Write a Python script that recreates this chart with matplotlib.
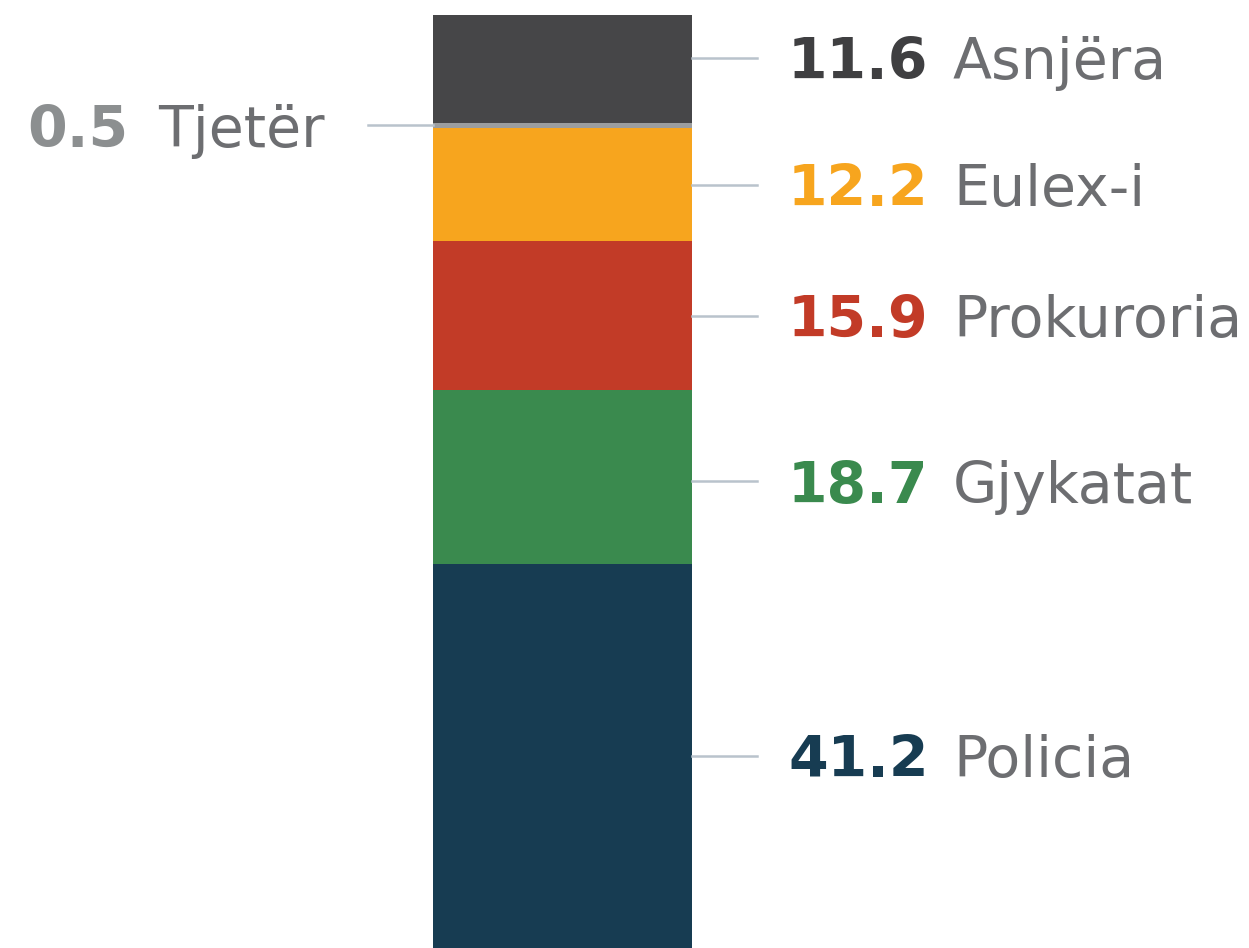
import numpy as np
import matplotlib.pyplot as plt

# data, bottom to top of the stacked bar
labels = ['Policia', 'Gjykatat', 'Prokuroria', 'Eulex-i', 'Tjetër', 'Asnjëra']
values = [41.2, 18.7, 15.9, 12.2, 0.5, 11.6]
colors = ['#173c52', '#3a8a4e', '#c23b27', '#f7a51e', '#9b9d9f', '#464648']
num_colors = ['#173c52', '#3a8a4e', '#c23b27', '#f7a51e', '#8c8f90', '#3f3f41']

W, H = 1249, 948
fig = plt.figure(figsize=(W / 100, H / 100), dpi=100)
ax = fig.add_axes([0, 0, 1, 1])

total = sum(values)
top_px = 15  # white space above the bar
ax.set_xlim(0, W)
ax.set_ylim(0, total * H / (H - top_px))
ax.axis('off')

bar_x, bar_w = 562.5, 259
bottoms = np.concatenate([[0], np.cumsum(values)[:-1]])
ax.bar(bar_x, values, width=bar_w, bottom=bottoms, color=colors, linewidth=0)

line_col = '#b9c3cc'
label_col = '#6d6e71'
num_font = dict(fontsize=41, fontweight='bold', family='DejaVu Sans')
lab_font = dict(fontsize=41, family='DejaVu Sans', color=label_col)
for lab, v, b, nc in zip(labels, values, bottoms, num_colors):
    y = b + v / 2
    if lab == 'Tjetër':
        # small slice, annotated on the left
        ax.plot([368, bar_x - bar_w / 2], [y, y], color=line_col, lw=1.8)
        ax.text(128, y, f'{v}', ha='right', va='center_baseline', color=nc, **num_font)
        ax.text(158, y, lab, ha='left', va='center_baseline', **lab_font)
        continue
    if lab == 'Asnjëra':
        y = y + 1.2
    if lab == 'Gjykatat':
        y = y - 0.5
    ax.plot([bar_x + bar_w / 2, 757], [y, y], color=line_col, lw=1.8)
    ax.text(788, y, f'{v}', ha='left', va='center_baseline', color=nc, **num_font)
    ax.text(953, y, lab, ha='left', va='center_baseline', **lab_font)

plt.savefig('out.png', dpi=100)
